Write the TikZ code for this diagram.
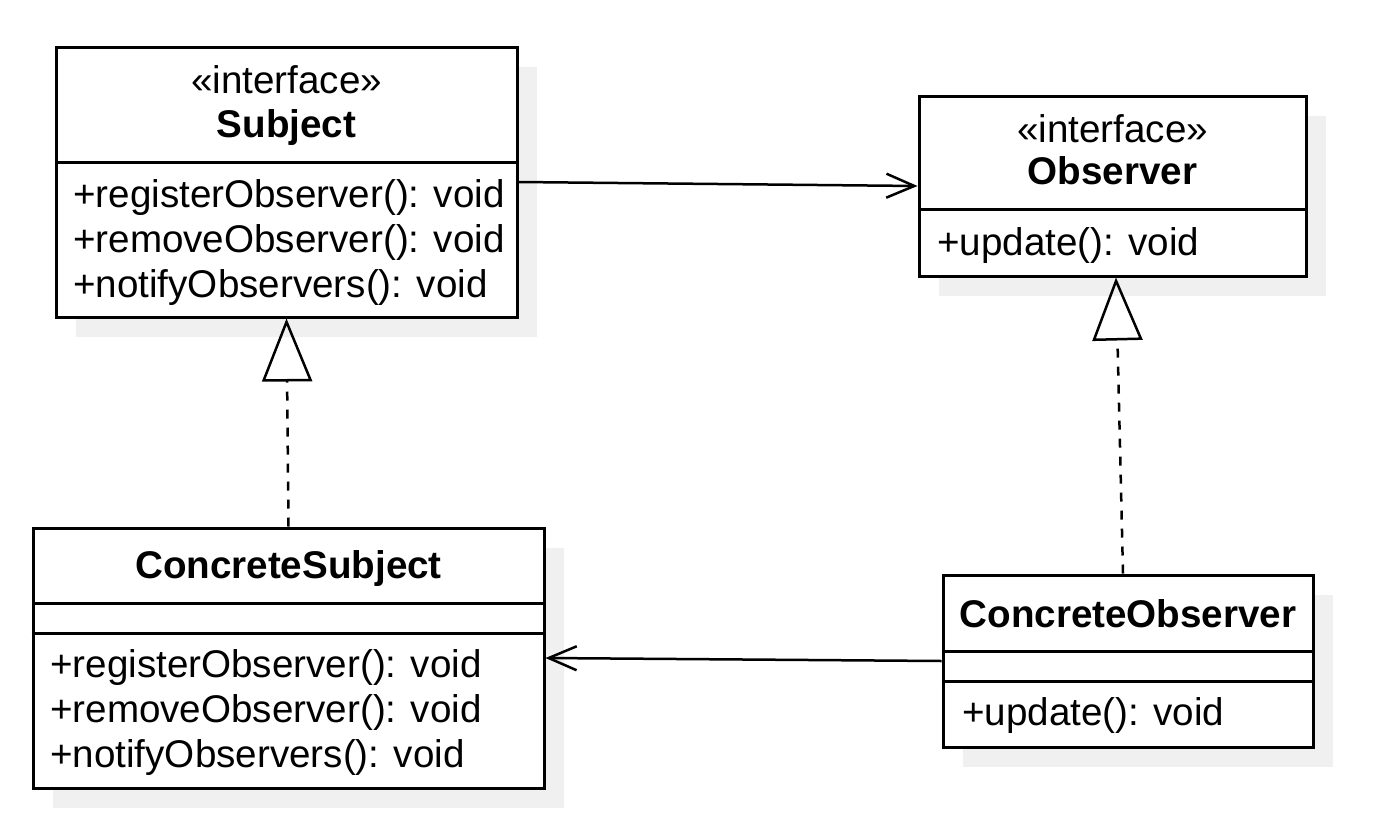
\documentclass[tikz,border=0pt]{standalone}
\usepackage{fontspec}
\setmainfont{Liberation Sans}
\usetikzlibrary{arrows.meta,shadows,calc}
\definecolor{shadowgray}{HTML}{F0F0F0}
\begin{document}
\begin{tikzpicture}[x=1pt,y=-1pt,
  box/.style={draw=black, line width=3pt, fill=white, inner sep=0pt,
    general shadow={fill=shadowgray, shadow xshift=20pt, shadow yshift=-20pt}},
  sepline/.style={draw=black, line width=3pt},
  txt/.style={anchor=base west, inner sep=0pt, font=\fontsize{38.6pt}{46pt}\selectfont},
  ttl/.style={anchor=base, inner sep=0pt, font=\fontsize{38.6pt}{46pt}\selectfont\bfseries},
  stereo/.style={anchor=base, inner sep=0pt, font=\fontsize{38.6pt}{46pt}\selectfont},
  dep/.style={draw=black, line width=2.5pt, -{Straight Barb[length=28pt,width=24pt]}},
  real/.style={draw=black, line width=2.5pt, dash pattern=on 9pt off 9pt,
    -{Triangle[open,length=63pt,width=50pt]}}
]
\useasboundingbox (0,0) rectangle (1390,830);

% Subject
\node[box, minimum width=461pt, minimum height=270pt] (subj) at (286.5,182) {};
\draw[sepline] (subj.west |- 0,162) -- (subj.east |- 0,162);
\node[stereo] (subjst) at (286.5,93) {«interface»};
\node[ttl] (subjt) at (286.5,137) {Subject};
\node[txt] (subjm1) at (73,207) {+registerObserver(): void};
\node[txt] (subjm2) at (73,252) {+removeObserver(): void};
\node[txt] (subjm3) at (73,297) {+notifyObservers(): void};

% Observer
\node[box, minimum width=387pt, minimum height=180pt] (obs) at (1112.5,186) {};
\draw[sepline] (obs.west |- 0,209) -- (obs.east |- 0,209);
\node[stereo] (obsst) at (1112.5,142) {«interface»};
\node[ttl] (obst) at (1112.5,184) {Observer};
\node[txt] (obsm1) at (937,255) {+update(): void};

% ConcreteSubject
\node[box, minimum width=511pt, minimum height=260pt] (csubj) at (288.5,658) {};
\draw[sepline] (csubj.west |- 0,603) -- (csubj.east |- 0,603);
\draw[sepline] (csubj.west |- 0,633) -- (csubj.east |- 0,633);
\node[ttl] (csubjt) at (288.5,578) {ConcreteSubject};
\node[txt] (csubjm1) at (50,677) {+registerObserver(): void};
\node[txt] (csubjm2) at (50,722) {+removeObserver(): void};
\node[txt] (csubjm3) at (50,767) {+notifyObservers(): void};

% ConcreteObserver
\node[box, minimum width=370pt, minimum height=172pt] (cobs) at (1128,661) {};
\draw[sepline] (cobs.west |- 0,651) -- (cobs.east |- 0,651);
\draw[sepline] (cobs.west |- 0,681) -- (cobs.east |- 0,681);
\node[ttl] (cobst) at (1128,627) {ConcreteObserver};
\node[txt] (cobsm1) at (962,725) {+update(): void};

% Connectors
\draw[dep] (subj.east) -- (obs.west);
\draw[dep] (cobs.west) -- (csubj.east);
\draw[real] (csubj.north) -- (subj.south);
\draw[real] ($(cobs.north)+(-5,0)$) -- ($(obs.south)+(3.5,0)$);
\end{tikzpicture}
\end{document}
